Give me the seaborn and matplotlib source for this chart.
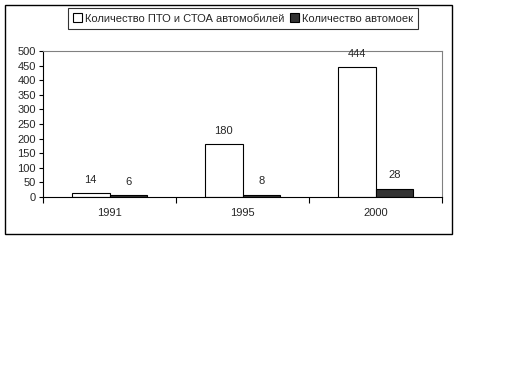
import matplotlib
matplotlib.use("Agg")
import matplotlib.pyplot as plt
from matplotlib.patches import Rectangle
import pandas as pd
import seaborn as sns

years = ["1991", "1995", "2000"]
series_names = ["Количество ПТО и СТОА автомобилей", "Количество автомоек"]
pto_counts = [14, 180, 444]
wash_counts = [6, 8, 28]

df = pd.DataFrame({
    "year": years * 2,
    "series": [series_names[0]] * 3 + [series_names[1]] * 3,
    "value": pto_counts + wash_counts,
})

sns.set_theme(style="white")
plt.rcParams["font.family"] = ["Liberation Sans", "DejaVu Sans"]
plt.rcParams["font.size"] = 8

fig = plt.figure(figsize=(5.12, 3.84), dpi=100)
fig.patch.set_facecolor("white")
ax = fig.add_axes([43 / 512, 1 - 197 / 384, 399 / 512, 146 / 384])

palette = {series_names[0]: "white", series_names[1]: "#333333"}
sns.barplot(data=df, x="year", y="value", hue="series", order=years,
            hue_order=series_names, palette=palette, width=0.57,
            edgecolor="black", linewidth=0.8, ax=ax, legend=False)

for cont in ax.containers:
    ax.bar_label(cont, padding=6, fontsize=8)

ax.set_xlim(-0.5, 2.5)
ax.set_ylim(0, 500)
ax.set_yticks(range(0, 501, 50))
ax.set_xlabel("")
ax.set_ylabel("")
ax.tick_params(axis="y", which="major", left=True, length=3, width=0.8,
               direction="out", pad=2, labelsize=8, color="black")
ax.set_xticks([-0.5, 0.5, 1.5, 2.5], minor=True)
ax.tick_params(axis="x", which="major", length=0, pad=8, labelsize=8)
ax.tick_params(axis="x", which="minor", bottom=True, length=4, width=0.8,
               direction="out", color="black")
for side in ["top", "right"]:
    ax.spines[side].set_color("#808080")
    ax.spines[side].set_linewidth(0.8)
for side in ["left", "bottom"]:
    ax.spines[side].set_color("black")
    ax.spines[side].set_linewidth(0.8)

handles = [Rectangle((0, 0), 1, 1, facecolor=palette[s], edgecolor="black",
                     linewidth=0.8) for s in series_names]
leg = fig.legend(handles, series_names, loc="center", ncol=2,
                 bbox_to_anchor=(243 / 512, 1 - 18.5 / 384), frameon=True,
                 fancybox=False, fontsize=8, handlelength=0.8,
                 handleheight=0.8, handletextpad=0.3, columnspacing=0.5,
                 borderpad=0.45, borderaxespad=0)
leg.get_frame().set_edgecolor("black")
leg.get_frame().set_linewidth(0.8)

fig.patches.append(Rectangle((5 / 512, 1 - 234 / 384), 447 / 512, 229 / 384,
                             transform=fig.transFigure, fill=False,
                             edgecolor="black", linewidth=1.0))

fig.savefig("out.png", dpi=100)
